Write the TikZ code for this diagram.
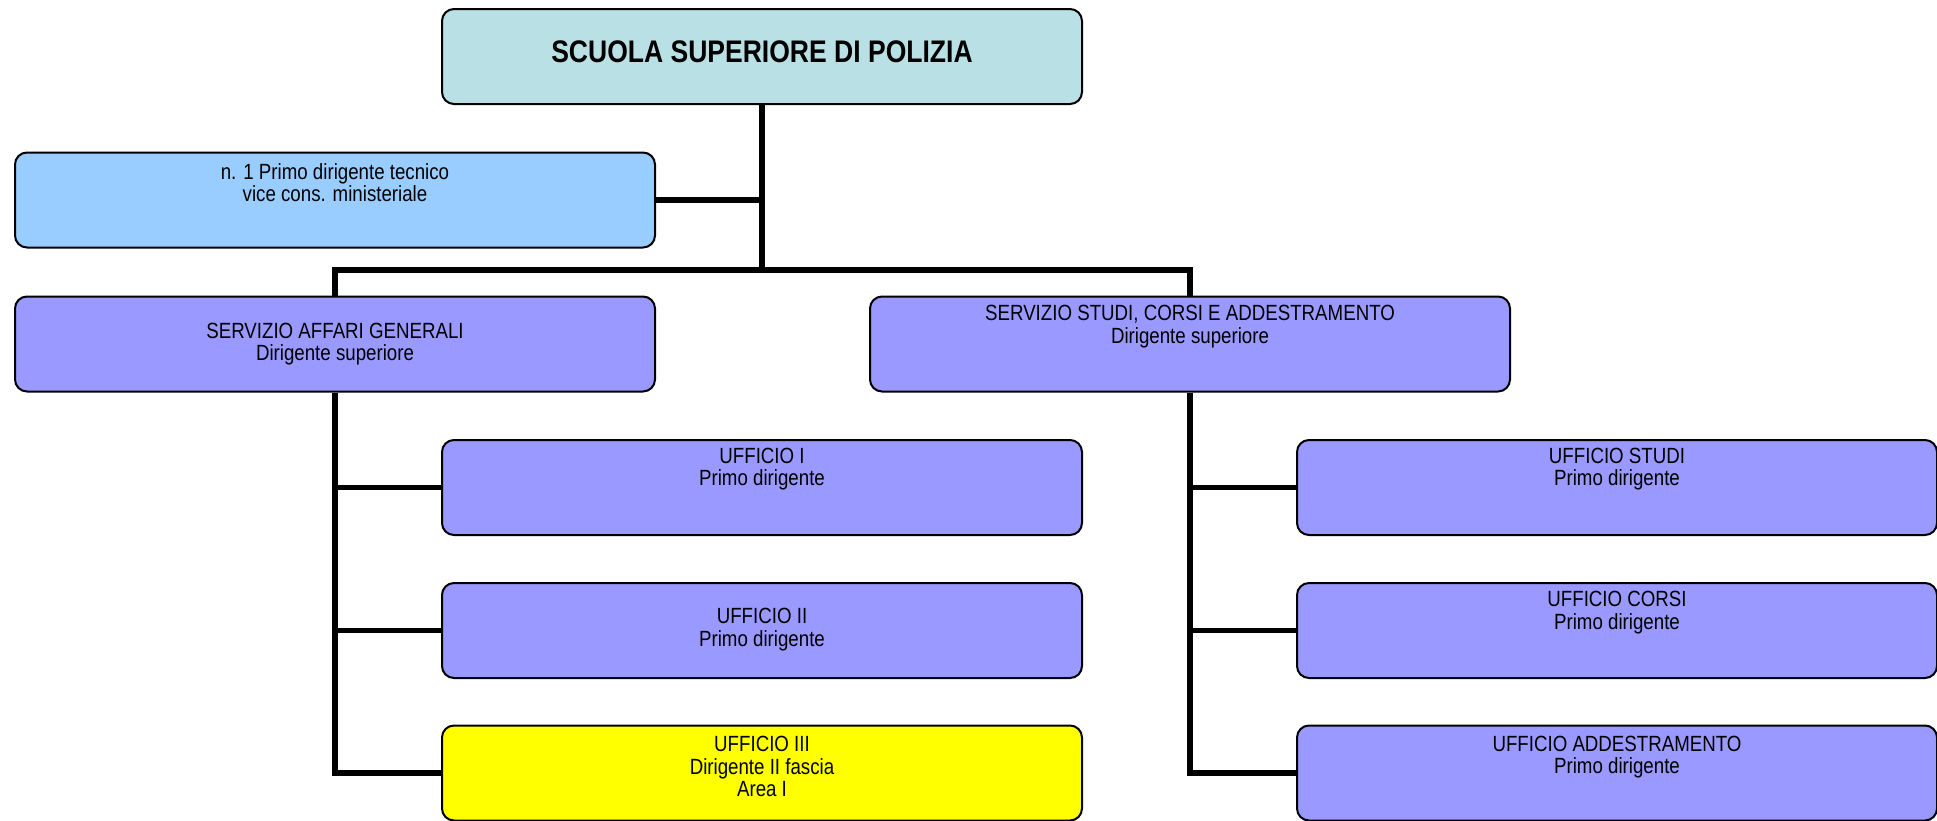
\documentclass[tikz,border=0pt]{standalone}
\usepackage{fontspec}
\setmainfont{Liberation Sans}
\newfontfamily\nfont[FakeStretch=0.85]{Liberation Sans}
\definecolor{topc}{RGB}{185,224,228}
\definecolor{lblue}{RGB}{153,204,255}
\definecolor{purp}{RGB}{153,153,255}
\definecolor{yel}{RGB}{255,255,0}
\begin{document}
\begin{tikzpicture}[x=0.5pt,y=-0.5pt,
  box/.style={draw=black, line width=1pt, rounded corners=6pt, minimum width=320pt, minimum height=47.5pt, inner sep=0pt},
  conn/.style={line width=2.9pt},
  txt/.style={align=center, inner sep=0pt, font=\nfont\fontsize{11}{11.1}\selectfont},
  ttl/.style={align=center, inner sep=0pt, font=\nfont\bfseries\fontsize{15.6}{18}\selectfont}]
\useasboundingbox (0,0) rectangle (1937,820);
% boxes
\node[box, fill=topc] (top) at (762,56.5) {};
\node[box, fill=lblue] (small) at (335,200) {};
\node[box, fill=purp] (sag) at (335,344) {};
\node[box, fill=purp] (ssca) at (1190,344) {};
\node[box, fill=purp] (u1) at (762,487.5) {};
\node[box, fill=purp] (u2) at (762,630.5) {};
\node[box, fill=yel] (u3) at (762,773) {};
\node[box, fill=purp] (us) at (1617,487.5) {};
\node[box, fill=purp] (uc) at (1617,630.5) {};
\node[box, fill=purp] (ua) at (1617,773) {};
% texts
\node[ttl] (ttop) at (762,51.5) {SCUOLA SUPERIORE DI POLIZIA};
\node[txt] (tsmall) at (335,182.5) {n. 1 Primo dirigente tecnico\\vice cons. ministeriale};
\node[txt] (tsag) at (335,344) {SERVIZIO AFFARI GENERALI\\Dirigente superiore};
\node[txt] (tssca) at (1190,326.5) {SERVIZIO STUDI, CORSI E ADDESTRAMENTO\\Dirigente superiore};
\node[txt] (tu1) at (762,469) {UFFICIO I\\Primo dirigente};
\node[txt] (tu2) at (762,629.5) {UFFICIO II\\Primo dirigente};
\node[txt] (tu3) at (762,766.5) {UFFICIO III\\Dirigente II fascia\\Area I};
\node[txt] (tus) at (1617,469) {UFFICIO STUDI\\Primo dirigente};
\node[txt] (tuc) at (1617,612.5) {UFFICIO CORSI\\Primo dirigente};
\node[txt] (tua) at (1617,757) {UFFICIO ADDESTRAMENTO\\Primo dirigente};
% connectors
\coordinate (hb) at (762,270);
\draw[conn] (top.south) -- (hb);
\draw[conn] (small.east) -- (small.east -| top.south);
\draw[conn] (sag.north) |- (hb) -| (ssca.north);
\draw[conn] (sag.south) |- (u3.west);
\draw[conn] (sag.south |- u1.west) -- (u1.west);
\draw[conn] (sag.south |- u2.west) -- (u2.west);
\draw[conn] (ssca.south) |- (ua.west);
\draw[conn] (ssca.south |- us.west) -- (us.west);
\draw[conn] (ssca.south |- uc.west) -- (uc.west);
\end{tikzpicture}
\end{document}
